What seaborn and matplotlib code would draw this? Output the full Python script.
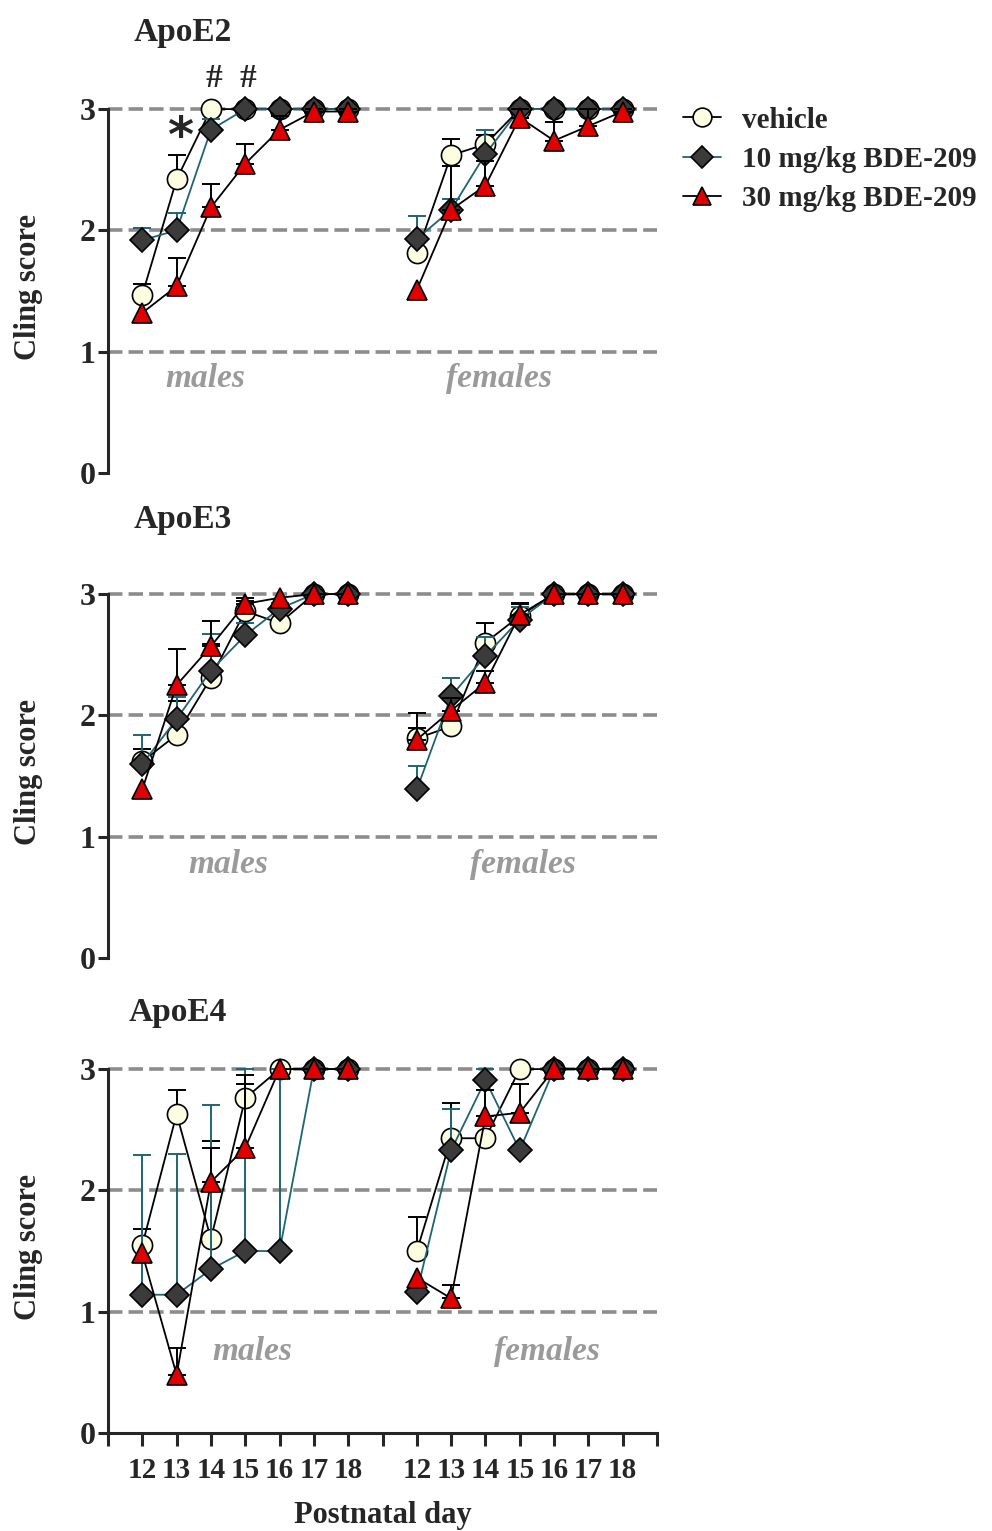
import numpy as np
import pandas as pd
import seaborn as sns
import matplotlib.pyplot as plt
from matplotlib.lines import Line2D

# ---------------------------------------------------------------------------
# DATA
# ---------------------------------------------------------------------------
days = [12, 13, 14, 15, 16, 17, 18]
groups = ["vehicle", "10 mg/kg BDE-209", "30 mg/kg BDE-209"]
panels = ["ApoE2", "ApoE3", "ApoE4"]

# ApoE2
e2_veh_m = [1.47, 2.42, 3.00, 3.00, 3.00, 3.00, 3.00]
e2_veh_m_err = [0.09, 0.20, 0, 0, 0, 0, 0]
e2_d10_m = [1.92, 2.00, 2.83, 3.00, 3.00, 3.00, 3.00]
e2_d10_m_err = [0.10, 0.14, 0.09, 0, 0, 0, 0]
e2_d30_m = [1.32, 1.54, 2.19, 2.55, 2.83, 2.98, 2.98]
e2_d30_m_err = [0, 0.23, 0.19, 0.16, 0.11, 0.02, 0.02]
e2_veh_f = [1.81, 2.62, 2.71, 3.00, 3.00, 3.00, 3.00]
e2_veh_f_err = [0.03, 0.13, 0.08, 0, 0, 0, 0]
e2_d10_f = [1.93, 2.17, 2.63, 3.00, 3.00, 3.00, 3.00]
e2_d10_f_err = [0.19, 0.09, 0.20, 0, 0, 0, 0]
e2_d30_f = [1.51, 2.17, 2.37, 2.93, 2.74, 2.86, 2.98]
e2_d30_f_err = [0, 0.36, 0.20, 0.07, 0.15, 0.14, 0.02]

# ApoE3
e3_veh_m = [1.62, 1.84, 2.31, 2.86, 2.76, 3.00, 3.00]
e3_veh_m_err = [0.10, 0.28, 0.28, 0.08, 0, 0, 0]
e3_d10_m = [1.60, 1.97, 2.37, 2.66, 2.88, 3.00, 3.00]
e3_d10_m_err = [0.24, 0.18, 0.30, 0.10, 0.05, 0, 0]
e3_d30_m = [1.39, 2.25, 2.57, 2.92, 2.97, 3.00, 3.00]
e3_d30_m_err = [0, 0.30, 0.21, 0.05, 0, 0, 0]
e3_veh_f = [1.81, 1.91, 2.60, 2.82, 3.00, 3.00, 3.00]
e3_veh_f_err = [0.21, 0, 0.16, 0.10, 0, 0, 0]
e3_d10_f = [1.39, 2.16, 2.49, 2.79, 3.00, 3.00, 3.00]
e3_d10_f_err = [0.19, 0.15, 0.16, 0.10, 0, 0, 0]
e3_d30_f = [1.80, 2.04, 2.27, 2.83, 3.00, 3.00, 3.00]
e3_d30_f_err = [0.10, 0.10, 0.10, 0.10, 0, 0, 0]

# ApoE4
e4_veh_m = [1.55, 2.63, 1.60, 2.76, 3.00, 3.00, 3.00]
e4_veh_m_err = [0.13, 0.20, 0.81, 0.12, 0, 0, 0]
e4_d10_m = [1.14, 1.14, 1.35, 1.50, 1.50, 3.00, 3.00]
e4_d10_m_err = [1.15, 1.16, 1.35, 1.50, 1.50, 0, 0]
e4_d30_m = [1.48, 0.48, 2.07, 2.35, 3.00, 3.00, 3.00]
e4_d30_m_err = [0, 0.22, 0.28, 0.60, 0, 0, 0]
e4_veh_f = [1.50, 2.43, 2.43, 3.00, 3.00, 3.00, 3.00]
e4_veh_f_err = [0.28, 0.29, 0, 0, 0, 0, 0]
e4_d10_f = [1.16, 2.33, 2.91, 2.33, 3.00, 3.00, 3.00]
e4_d10_f_err = [0, 0.34, 0.09, 0, 0, 0, 0]
e4_d30_f = [1.28, 1.11, 2.61, 2.64, 3.00, 3.00, 3.00]
e4_d30_f_err = [0, 0.11, 0.22, 0.24, 0, 0, 0]

# Significance marks on the ApoE2 panel (symbol, day in males, y)
sig_marks = [("*", 13, 2.76), ("#", 14, 3.25), ("#", 15, 3.25)]

# ---------------------------------------------------------------------------
# Assemble
# ---------------------------------------------------------------------------
data = {
    "ApoE2": [(e2_veh_m, e2_veh_m_err, e2_veh_f, e2_veh_f_err),
              (e2_d10_m, e2_d10_m_err, e2_d10_f, e2_d10_f_err),
              (e2_d30_m, e2_d30_m_err, e2_d30_f, e2_d30_f_err)],
    "ApoE3": [(e3_veh_m, e3_veh_m_err, e3_veh_f, e3_veh_f_err),
              (e3_d10_m, e3_d10_m_err, e3_d10_f, e3_d10_f_err),
              (e3_d30_m, e3_d30_m_err, e3_d30_f, e3_d30_f_err)],
    "ApoE4": [(e4_veh_m, e4_veh_m_err, e4_veh_f, e4_veh_f_err),
              (e4_d10_m, e4_d10_m_err, e4_d10_f, e4_d10_f_err),
              (e4_d30_m, e4_d30_m_err, e4_d30_f, e4_d30_f_err)],
}

# x positions: males at 1..7, females at 9..15 on a 0..16 axis
x_males = np.arange(1, 8)
x_females = np.arange(9, 16)

styles = {
    "vehicle": dict(marker="o", mfc="#fdfde1", ms=14.5, line="black", err="black"),
    "10 mg/kg BDE-209": dict(marker="D", mfc="#3b3b3b", ms=12.5, line="#1f6475", err="#1f6475"),
    "30 mg/kg BDE-209": dict(marker="^", mfc="#e00000", ms=14, line="black", err="black"),
}

sns.set_style("ticks")
plt.rcParams["font.family"] = ["Liberation Serif", "DejaVu Serif"]
plt.rcParams["font.weight"] = "bold"

fig = plt.figure(figsize=(9.92, 15.31), dpi=100)
W, H = 992, 1531
zero_px = [473, 958, 1433]
px_unit = 121.3
ytop = 3.4

title_pos = [(183, 32), (183, 520), (178, 1012)]
label_pos = {"ApoE2": ((2.85, 0.78), (11.4, 0.78)),
             "ApoE3": ((3.5, 0.77), (12.1, 0.77)),
             "ApoE4": ((4.2, 0.67), (12.8, 0.67))}

axes = []
for p, panel in enumerate(panels):
    bottom = 1 - zero_px[p] / H
    height = ytop * px_unit / H
    ax = fig.add_axes([108 / W, bottom, 549 / W, height])
    axes.append(ax)

    for yv in (1, 2, 3):
        ax.axhline(yv, color="#8c8c8c", lw=2.6, dashes=(4, 1.7), zorder=1)

    for g, grp in enumerate(groups):
        st = styles[grp]
        m_vals, m_err, f_vals, f_err = data[panel][g]
        for xs, vals, errs in ((x_males, m_vals, m_err), (x_females, f_vals, f_err)):
            df = pd.DataFrame({"x": xs, "y": vals, "err": errs})
            nz = df[df["err"] > 0]
            if len(nz):
                ax.errorbar(nz["x"], nz["y"], yerr=[np.zeros(len(nz)), nz["err"]],
                            fmt="none", ecolor=st["err"], elinewidth=1.4,
                            capsize=6.5, capthick=1.4, zorder=2 + g)
            sns.lineplot(data=df, x="x", y="y", ax=ax, color=st["line"], lw=1.3,
                         marker=st["marker"], markersize=st["ms"],
                         markerfacecolor=st["mfc"], markeredgecolor="black",
                         markeredgewidth=1.2, errorbar=None, legend=False,
                         zorder=3 + g)

    ax.set_xlim(0, 16)
    ax.set_ylim(0, ytop)
    ax.set_yticks([0, 1, 2, 3])
    ax.set_yticklabels(["0", "1", "2", "3"], fontsize=23, fontweight="bold")
    ax.tick_params(axis="y", length=7, width=2.2, pad=2)
    sns.despine(ax=ax, top=True, right=True)
    ax.spines["left"].set_bounds(0, 3)
    ax.spines["left"].set_linewidth(2.2)
    ax.set_xlabel("")
    ax.set_ylabel("Cling score", fontsize=22, fontweight="bold")
    ax.yaxis.set_label_coords(-0.118, 0.45)

    if p < 2:
        ax.spines["bottom"].set_visible(False)
        ax.set_xticks([])
    else:
        ax.spines["bottom"].set_linewidth(2.2)
        ax.spines["bottom"].set_bounds(0, 16)
        ax.set_xticks(np.arange(0, 17))
        ticklabels = [""] + [str(d) for d in days] + [""] + [str(d) for d in days] + [""]
        ax.set_xticklabels(ticklabels, fontsize=21, fontweight="bold")
        ax.tick_params(axis="x", length=9, width=2.2, pad=8)

    (mx, my), (fx, fy) = label_pos[panel]
    ax.text(mx, my, "males", color="#9a9a9a", style="italic", fontsize=24,
            fontweight="bold", ha="center", va="center")
    ax.text(fx, fy, "females", color="#9a9a9a", style="italic", fontsize=24,
            fontweight="bold", ha="center", va="center")

    tx, ty = title_pos[p]
    fig.text(tx / W, 1 - ty / H, panel, fontsize=24, fontweight="bold",
             ha="center", va="center")

# Significance marks
for sym, day, yv in sig_marks:
    xpos = x_males[days.index(day)]
    if sym == "*":
        axes[0].text(xpos + 0.1, yv, sym, fontsize=36, fontweight="bold",
                     ha="center", va="center", family=["DejaVu Sans"])
    else:
        axes[0].text(xpos + 0.08, yv, sym, fontsize=24, fontweight="bold",
                     ha="center", va="center")

fig.text(383 / W, 1 - 1515 / H, "Postnatal day", fontsize=22, fontweight="bold",
         ha="center", va="center")

# Legend
handles = []
for grp in groups:
    st = styles[grp]
    handles.append(Line2D([0], [0], color=st["line"], lw=1.3, marker=st["marker"],
                          markersize=st["ms"] - 1, markerfacecolor=st["mfc"],
                          markeredgecolor="black", markeredgewidth=1.2))
fig.legend(handles, groups, loc="upper left", bbox_to_anchor=(668 / W, 1 - 92 / H),
           frameon=False, fontsize=21, handlelength=1.3, handletextpad=0.75,
           labelspacing=0.42, borderpad=0)

fig.savefig("out.png", dpi=100)
